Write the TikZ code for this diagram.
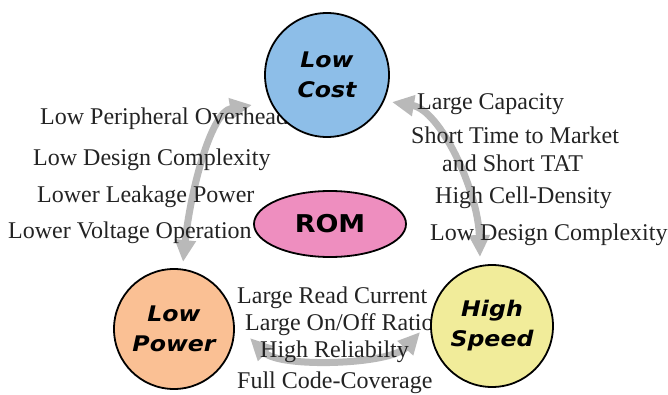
\documentclass[tikz,border=0pt]{standalone}
\usepackage{fontspec}
\setmainfont{Liberation Serif}
\newfontfamily\circfont[FakeStretch=1.1]{DejaVu Sans}
\usetikzlibrary{arrows.meta,shapes.geometric,calc}
\pgfdeclarelayer{bg}
\pgfsetlayers{bg,main}
\definecolor{cblue}{RGB}{141,190,232}
\definecolor{corange}{RGB}{250,192,148}
\definecolor{cyellow}{RGB}{241,236,154}
\definecolor{cpink}{RGB}{238,142,191}
\definecolor{arrgray}{RGB}{185,185,185}
\definecolor{txt}{RGB}{35,35,35}
\tikzset{
  lbl/.style={anchor=west,inner sep=0pt,text=txt,font=\fontsize{24}{28}\selectfont},
  goal/.style={circle,draw=black,line width=1.8pt,inner sep=0pt,align=center,
    font=\circfont\bfseries\itshape\fontsize{21.5}{30}\selectfont},
  romst/.style={ellipse,draw=black,line width=1.8pt,inner sep=0pt,
    minimum width=152pt,minimum height=66pt,fill=cpink,
    font=\circfont\bfseries\fontsize{24.5}{28}\selectfont},
  arr/.style={line width=7pt,draw=arrgray,
    {Triangle[length=22pt,width=20pt]}-{Triangle[length=22pt,width=20pt]}}
}
\begin{document}
\begin{tikzpicture}[x=1pt,y=1pt]
\useasboundingbox (0,0) rectangle (668,394);
% labels
\node[lbl] (t1) at (40,275) {Low Peripheral Overhead};
\node[lbl] (t2) at (33,234) {Low Design Complexity};
\node[lbl] (t3) at (37,197) {Lower Leakage Power};
\node[lbl] (t4) at (8,161) {Lower Voltage Operation};
\node[lbl] (t5) at (417,290) {Large Capacity};
\node[lbl] (t6) at (411,259) {Short Time to Market};
\node[lbl] (t7) at (442,231) {and Short TAT};
\node[lbl] (t8) at (435,196) {High Cell-Density};
\node[lbl] (t9) at (430,159) {Low Design Complexity};
\node[lbl] (t10) at (237,96) {Large Read Current};
\node[lbl] (t11) at (245,69) {Large On/Off Ratio};
\node[lbl] (t12) at (260,42) {High Reliabilty};
\node[lbl] (t13) at (237,11) {Full Code-Coverage};
% circles
\node[goal,fill=cblue,minimum size=124pt] (lc) at (327,319) {Low\\Cost};
\node[goal,fill=corange,minimum size=120pt] (lp) at (174,65) {Low\\Power};
\node[goal,fill=cyellow,minimum size=122pt] (hs) at (492,68) {High\\Speed};
\node[romst] (rom) at (330,170) {ROM};
% arrow ends
\coordinate (a1) at ($(lp.center)+(82.3:67.6)$);
\coordinate (a2) at ($(lc.center)+(201.8:80.8)$);
\coordinate (b1) at ($(lc.center)+(337.4:70.4)$);
\coordinate (b2) at ($(hs.center)+(99.9:70)$);
\coordinate (c1) at ($(lp.center)+(353.2:76.5)$);
\coordinate (c2) at ($(hs.center)+(184.8:72.2)$);
\begin{pgfonlayer}{bg}
\draw[arr] (a1) .. controls (190,199) and (210,282) .. (a2);
\draw[arr] (b1) .. controls (440,284) and (478,204) .. (b2);
\draw[arr] (c1) .. controls (280,26) and (390,29) .. (c2);
\end{pgfonlayer}
\end{tikzpicture}
\end{document}
